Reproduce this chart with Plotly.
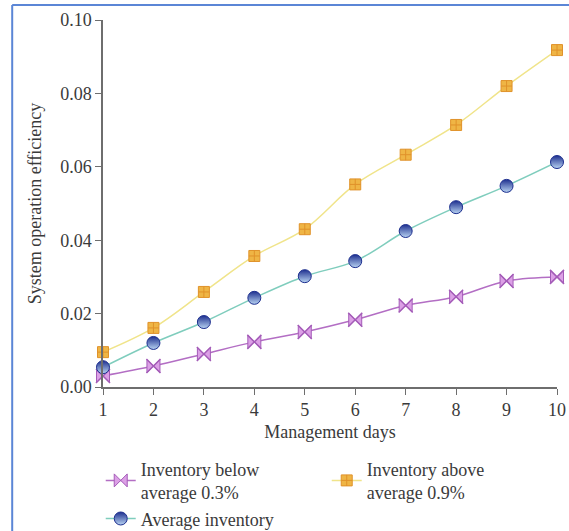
import plotly.graph_objects as go

days = [1, 2, 3, 4, 5, 6, 7, 8, 9, 10]
below_avg = [0.0030, 0.0057, 0.0090, 0.0123, 0.0150, 0.0183, 0.0222, 0.0246, 0.0289, 0.0300]
above_avg = [0.0095, 0.0161, 0.0259, 0.0357, 0.0430, 0.0552, 0.0633, 0.0714, 0.0820, 0.0918]
average = [0.0054, 0.0120, 0.0177, 0.0243, 0.0302, 0.0343, 0.0425, 0.0490, 0.0548, 0.0613]
y_ticks = [0.00, 0.02, 0.04, 0.06, 0.08, 0.10]

FONT = "Liberation Serif"
TXT = "#3a3a3a"

fig = go.Figure()
fig.add_trace(go.Scatter(
    x=days, y=below_avg, name="Inventory below<br>average 0.3%", cliponaxis=False,
    mode="lines+markers", line=dict(color="#b36ec4", width=1.5, shape="spline"),
    marker=dict(symbol="bowtie", size=13, color="#dca0e6", line=dict(color="#a45cb8", width=1)),
))
# thin cross drawn over the bowtie markers
fig.add_trace(go.Scatter(
    x=days, y=below_avg, mode="markers", showlegend=False, hoverinfo="skip", cliponaxis=False,
    marker=dict(symbol="x-thin", size=14, line=dict(color="#a45cb8", width=1.5)),
))
fig.add_trace(go.Scatter(
    x=days, y=above_avg, name="Inventory above<br>average 0.9%", cliponaxis=False,
    mode="lines+markers", line=dict(color="#f0e48a", width=1.5, shape="spline"),
    marker=dict(symbol="square-cross", size=11, color="#efb545", line=dict(color="#e0922a", width=1)),
))
fig.add_trace(go.Scatter(
    x=days, y=average, name="Average inventory", cliponaxis=False,
    mode="lines+markers", line=dict(color="#7fcdbd", width=1.5, shape="spline"),
    marker=dict(symbol="circle", size=13, color="#1d2f8f",
                gradient=dict(type="vertical", color="#b9d4f2"),
                line=dict(color="#1d2f8f", width=1)),
))

axis_common = dict(
    showline=True, linecolor="#6e6e6e", linewidth=1.5, ticks="outside",
    tickcolor="#6e6e6e", ticklen=6, showgrid=False, zeroline=False,
    tickfont=dict(family=FONT, size=18, color=TXT),
)
fig.update_xaxes(range=[1, 10], tickvals=days,
                 title=dict(text="Management days", font=dict(family=FONT, size=18, color=TXT), standoff=6),
                 **axis_common)
fig.update_yaxes(range=[0, 0.10], tickvals=y_ticks, tickformat=".2f",
                 title=dict(text="System operation efficiency", font=dict(family=FONT, size=18, color=TXT), standoff=14),
                 **axis_common)

# thin blue frame at top and left of the figure
fig.add_shape(type="line", xref="paper", yref="paper", x0=-0.2, x1=1.03, y0=1.041, y1=1.041,
              line=dict(color="#5b86d6", width=2))
fig.add_shape(type="line", xref="paper", yref="paper", x0=-0.2, x1=-0.2, y0=1.041, y1=-0.4,
              line=dict(color="#5b86d6", width=2))

fig.update_layout(
    width=569, height=531, template="plotly_white",
    paper_bgcolor="white", plot_bgcolor="white",
    margin=dict(l=103, r=12, t=20, b=144, autoexpand=False),
    font=dict(family=FONT, color=TXT),
    legend=dict(orientation="h", x=-0.005, y=-0.173, xanchor="left", yanchor="top",
                entrywidth=181, entrywidthmode="pixels", tracegroupgap=0,
                font=dict(family=FONT, size=18, color=TXT)),
)

fig.write_html("out.html", config={"displayModeBar": False},
               post_script="document.body.style.margin='0';document.body.style.overflow='hidden';")
